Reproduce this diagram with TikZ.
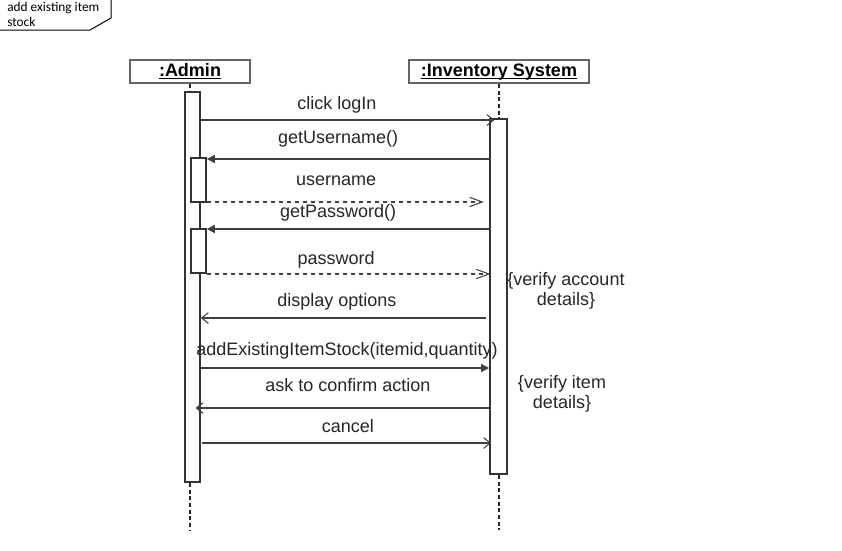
\documentclass[tikz,border=0pt]{standalone}
\usepackage{fontspec}
\setmainfont{Liberation Sans}
\newfontfamily\notefont{Carlito}
\usetikzlibrary{arrows.meta}

\newcommand\ulbox[1]{\setbox0\hbox{#1}\rlap{\rule[-2pt]{\wd0}{0.9pt}}\box0}

\tikzset{
  head/.style={draw=black!60, line width=1.3pt, fill=white, inner sep=0pt, minimum height=17.5pt, text height=9.7pt, text depth=2.5pt, font=\fontsize{13.5}{16}\selectfont\bfseries},
  bar/.style={draw=black!80, line width=1.3pt, fill=white, inner sep=0pt},
  life/.style={draw=black!85, dash pattern=on 3pt off 2pt, line width=0.8pt},
  msg/.style={draw=black!75, line width=1.3pt},
  lbl/.style={font=\fontsize{13.5}{16}\selectfont, text=black!85, inner sep=0pt, anchor=base},
  opentip/.style={-{Straight Barb[length=5pt,width=8pt,line width=0.8pt]}},
  retntip/.style={-{Straight Barb[length=9.5pt,width=7pt,line width=0.8pt]}},
  filltip/.style={-{Triangle[length=6pt,width=6pt]}},
  cnote/.style={font=\fontsize{13.5}{15}\selectfont, text=black!85, align=center, inner sep=0pt}
}

\begin{document}
\begin{tikzpicture}[x=0.75pt,y=-0.75pt]
        \useasboundingbox (0,0) rectangle (842,550);

        \draw[line width=0.75pt] (-1,-1)--(111,-1)--(111,18)--(90,30)--(-1,30)--cycle;
        \node[font=\notefont\fontsize{10}{11.25}\selectfont, align=left, anchor=north west, inner sep=0pt] (noteTxt) at (7,2) {add existing item\\stock};

        \node[head, minimum width=90pt] (adminHead) at (190,71.5) {\ulbox{:Admin}};
        \node[head, minimum width=135pt] (invHead) at (499,71.5) {\ulbox{:Inventory System}};

        \node[bar, minimum width=11.25pt, minimum height=292.5pt] (adminAct) at (192.5,287) {};
        \node[bar, minimum width=12.75pt, minimum height=266.25pt] (invAct) at (498.5,296.5) {};
        \node[bar, minimum width=11.25pt, minimum height=33pt] (userAct) at (198.5,180) {};
        \node[bar, minimum width=11.25pt, minimum height=33pt] (passAct) at (198.5,251) {};

        \coordinate (adminEnd) at (190,530);
        \coordinate (invEnd) at (499,530);
        \draw[life] (adminHead.south) -- (adminHead.south |- adminAct.north);
        \draw[life] (adminHead.south |- adminAct.south) -- (adminEnd);
        \draw[life] (invHead.south) -- (invHead.south |- invAct.north);
        \draw[life] (invHead.south |- invAct.south) -- (invEnd);

        \draw[msg,opentip,shorten >=-4pt] (adminAct.east |- 0,120) --node[lbl,pos=0.472,yshift=8.25pt]{click logIn} (invAct.west |- 0,120);
        \draw[msg,filltip] (invAct.west |- 0,159) --node[lbl,pos=0.535,yshift=12pt]{getUsername()} (userAct.east |- 0,159);
        \draw[msg,retntip,dashed,shorten >=4pt] (userAct.east |- 0,202) --node[lbl,pos=0.458,yshift=12.75pt]{username} (invAct.west |- 0,202);
        \draw[msg,filltip] (invAct.west |- 0,229) --node[lbl,pos=0.535,yshift=9pt]{getPassword()} (passAct.east |- 0,229);
        \draw[msg,retntip,dashed,shorten >=-1pt] (passAct.east |- 0,274) --node[lbl,pos=0.458,yshift=7.5pt]{password} (invAct.west |- 0,274);
        \draw[msg,opentip,shorten <=2pt] (invAct.west |- 0,318) --node[lbl,pos=0.528,yshift=9pt]{display options} (adminAct.east |- 0,318);
        \draw[msg,line width=0.8pt,filltip] (adminAct.east |- 0,368) --node[lbl,pos=0.507,yshift=9.75pt]{addExistingItemStock(itemid,quantity)} (invAct.west |- 0,368);
        \draw[msg,opentip,shorten >=-4pt] (invAct.west |- 0,408) --node[lbl,pos=0.49,yshift=12.75pt]{ask to confirm action} (adminAct.east |- 0,408);
        \draw[msg,opentip,shorten <=1pt,shorten >=-1.5pt] (adminAct.east |- 0,443) --node[lbl,pos=0.51,yshift=8.25pt]{cancel} (invAct.west |- 0,443);

        \node[cnote] (verifyAcc) at (566,291) {\{verify account\\details\}};
        \node[cnote] (verifyItem) at (562,394) {\{verify item\\details\}};
    \end{tikzpicture}
\end{document}
